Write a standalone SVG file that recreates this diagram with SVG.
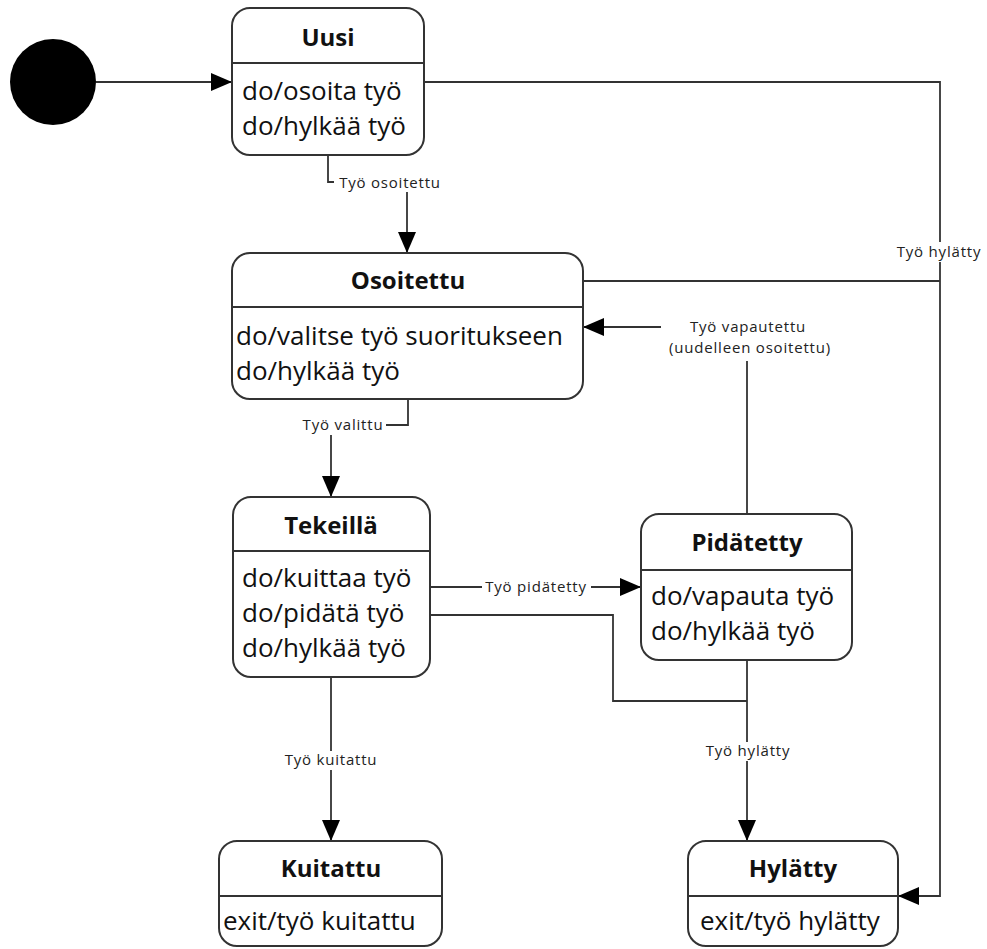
<svg xmlns="http://www.w3.org/2000/svg" width="987" height="949" viewBox="0 0 987 949">
<defs>
<style>
.box{fill:#fff;stroke:#333;stroke-width:2}
.div{stroke:#333;stroke-width:2}
.title{font-family:"Open Sans","Noto Sans",sans-serif;font-weight:bold;font-size:24px;fill:#111;text-anchor:middle}
.act{font-family:"Open Sans","Noto Sans",sans-serif;font-size:26px;fill:#111}
.edge{fill:none;stroke:#333;stroke-width:1.8}
.lbl{font-family:"Open Sans","Noto Sans",sans-serif;font-size:15px;fill:#222;text-anchor:middle;letter-spacing:0.8px}
.lblbg{fill:#fff}
</style>
<marker id="arr" markerUnits="userSpaceOnUse" markerWidth="22" markerHeight="18" refX="21" refY="9" orient="auto">
<path d="M0,0 L21,9 L0,18 z" fill="#000"/>
</marker>
</defs>
<rect width="987" height="949" fill="#fff"/>

<g id="connectors">
<path class="edge" d="M96,82 H232" marker-end="url(#arr)"/>
<path class="edge" d="M328,155 V182 H407 V253" marker-end="url(#arr)"/>
<path class="edge" d="M424,82 H940 V896 H898" marker-end="url(#arr)"/>
<path class="edge" d="M583,281 H940"/>
<path class="edge" d="M408,399 V425 H331 V497" marker-end="url(#arr)"/>
<path class="edge" d="M747,514 V327 H583" marker-end="url(#arr)"/>
<path class="edge" d="M430,587 H641" marker-end="url(#arr)"/>
<path class="edge" d="M430,615 H613 V701 H747"/>
<path class="edge" d="M747,660 V841" marker-end="url(#arr)"/>
<path class="edge" d="M331,677 V841" marker-end="url(#arr)"/>

<rect class="lblbg" x="334" y="173" width="111" height="19"/>
<text class="lbl" x="390" y="188">Työ osoitettu</text>
<rect class="lblbg" x="897" y="242" width="86" height="20"/>
<text class="lbl" x="939" y="257">Työ hylätty</text>
<rect class="lblbg" x="300" y="416" width="86" height="19"/>
<text class="lbl" x="343" y="430">Työ valittu</text>
<rect class="lblbg" x="661" y="315" width="178" height="46"/>
<text class="lbl" x="748" y="332">Työ vapautettu</text>
<text class="lbl" x="750" y="353">(uudelleen osoitettu)</text>
<rect class="lblbg" x="482" y="578" width="109" height="19"/>
<text class="lbl" x="536" y="592">Työ pidätetty</text>
<rect class="lblbg" x="702" y="742" width="92" height="19"/>
<text class="lbl" x="748" y="756">Työ hylätty</text>
<rect class="lblbg" x="279" y="751" width="104" height="19"/>
<text class="lbl" x="331" y="765">Työ kuitattu</text>
</g>

<g id="start">
<circle cx="53" cy="82" r="43" fill="#000"/>
</g>

<g id="uusi">
<rect class="box" x="232" y="8" width="192" height="147" rx="18"/>
<line class="div" x1="232" y1="63" x2="424" y2="63"/>
<text class="title" x="328" y="46">Uusi</text>
<text class="act" x="242" y="100">do/osoita työ</text>
<text class="act" x="242" y="135">do/hylkää työ</text>
</g>

<g id="osoitettu">
<rect class="box" x="232" y="253" width="351" height="146" rx="18"/>
<line class="div" x1="232" y1="307" x2="583" y2="307"/>
<text class="title" x="408" y="289">Osoitettu</text>
<text class="act" x="236" y="345">do/valitse työ suoritukseen</text>
<text class="act" x="236" y="380">do/hylkää työ</text>
</g>

<g id="tekeilla">
<rect class="box" x="233" y="497" width="197" height="180" rx="18"/>
<line class="div" x1="233" y1="551" x2="430" y2="551"/>
<text class="title" x="331" y="534">Tekeillä</text>
<text class="act" x="242" y="587">do/kuittaa työ</text>
<text class="act" x="242" y="622">do/pidätä työ</text>
<text class="act" x="242" y="657">do/hylkää työ</text>
</g>

<g id="pidatetty">
<rect class="box" x="641" y="514" width="211" height="146" rx="18"/>
<line class="div" x1="641" y1="570" x2="852" y2="570"/>
<text class="title" x="747" y="551">Pidätetty</text>
<text class="act" x="651" y="605">do/vapauta työ</text>
<text class="act" x="651" y="640">do/hylkää työ</text>
</g>

<g id="kuitattu">
<rect class="box" x="219" y="841" width="223" height="105" rx="18"/>
<line class="div" x1="219" y1="896" x2="442" y2="896"/>
<text class="title" x="331" y="877">Kuitattu</text>
<text class="act" x="223" y="930">exit/työ kuitattu</text>
</g>

<g id="hylatty">
<rect class="box" x="688" y="841" width="210" height="105" rx="18"/>
<line class="div" x1="688" y1="896" x2="898" y2="896"/>
<text class="title" x="793" y="877">Hylätty</text>
<text class="act" x="700" y="930">exit/työ hylätty</text>
</g>
</svg>
